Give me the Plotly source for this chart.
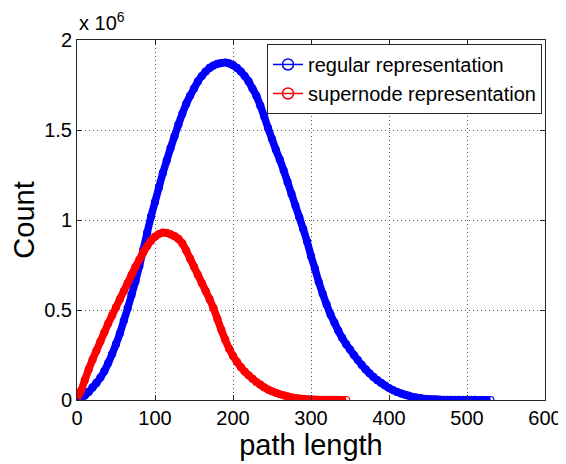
import plotly.graph_objects as go

# path length (x) and counts in millions (y)
x_regular = list(range(0, 535, 5))
y_regular = [
    0.0, 0.01, 0.025, 0.045, 0.07, 0.095, 0.125, 0.16, 0.205, 0.255,   # 0-45
    0.31, 0.37, 0.44, 0.51, 0.585, 0.66, 0.745, 0.835, 0.93, 1.02,     # 50-95
    1.10, 1.18, 1.26, 1.33, 1.40, 1.465, 1.53, 1.59, 1.645, 1.69,      # 100-145
    1.73, 1.77, 1.80, 1.825, 1.845, 1.858, 1.867, 1.872, 1.875, 1.87,  # 150-195
    1.86, 1.845, 1.825, 1.80, 1.77, 1.73, 1.69, 1.635, 1.575, 1.51,    # 200-245
    1.45, 1.39, 1.335, 1.275, 1.21, 1.145, 1.08, 1.015, 0.95, 0.88,    # 250-295
    0.80, 0.73, 0.655, 0.59, 0.53, 0.475, 0.43, 0.385, 0.345, 0.31,    # 300-345
    0.28, 0.25, 0.222, 0.195, 0.17, 0.148, 0.128, 0.11, 0.095, 0.08,   # 350-395
    0.066, 0.055, 0.045, 0.037, 0.03, 0.024, 0.018, 0.014, 0.01, 0.007, # 400-445
    0.005, 0.004, 0.003, 0.002, 0.0015, 0.001, 0.0008, 0.0006, 0.0005, 0.0004, # 450-495
    0.0003, 0.0002, 0.0002, 0.0001, 0.0001, 0.0001, 0.0,               # 500-530
]

x_super = list(range(0, 350, 5))
y_super = [
    0.01, 0.05, 0.11, 0.17, 0.225, 0.275, 0.325, 0.375, 0.425, 0.47,   # 0-45
    0.515, 0.56, 0.605, 0.65, 0.695, 0.74, 0.78, 0.82, 0.855, 0.885,   # 50-95
    0.907, 0.922, 0.93, 0.928, 0.92, 0.91, 0.895, 0.87, 0.83, 0.785,   # 100-145
    0.74, 0.695, 0.65, 0.605, 0.56, 0.51, 0.45, 0.39, 0.335, 0.285,    # 150-195
    0.245, 0.212, 0.183, 0.158, 0.137, 0.118, 0.10, 0.085, 0.07, 0.058, # 200-245
    0.048, 0.04, 0.032, 0.026, 0.02, 0.015, 0.011, 0.008, 0.006, 0.004, # 250-295
    0.003, 0.002, 0.0015, 0.001, 0.0008, 0.0005, 0.0003, 0.0002, 0.0001, 0.0, # 300-345
]

series_names = ["regular representation", "supernode representation"]
x_ticks = [0, 100, 200, 300, 400, 500, 600]
y_ticks = [0, 0.5, 1, 1.5, 2]
y_tick_text = ["0", "0.5", "1", "1.5", "2"]

BLUE = "#0000ff"
RED = "#ff0000"
FONT = "Arial, Liberation Sans, Helvetica, sans-serif"

fig = go.Figure()
for xs, ys, col in [(x_regular, y_regular, BLUE), (x_super, y_super, RED)]:
    fig.add_trace(go.Scatter(
        x=xs, y=ys, mode="lines+markers", showlegend=False,
        line=dict(color=col, width=7.5, shape="spline"),
        marker=dict(symbol="circle-open", size=7, color=col, line=dict(width=1.2, color=col)),
        hoverinfo="skip",
    ))
# legend entries (thin line with open circle)
for name, col in zip(series_names, [BLUE, RED]):
    fig.add_trace(go.Scatter(
        x=[None], y=[None], mode="lines+markers", name=name,
        line=dict(color=col, width=1.5),
        marker=dict(symbol="circle-open", size=11, color=col, line=dict(width=1.5, color=col)),
    ))

axis_common = dict(
    showline=True, linecolor="#262626", linewidth=1, mirror="ticks",
    ticks="inside", ticklen=5, tickcolor="#262626", tickwidth=1,
    showgrid=True, gridcolor="#555555", griddash="1px,3px", gridwidth=1,
    zeroline=False, automargin=False,
    tickfont=dict(family=FONT, size=20, color="black"),
)

# the page body has an 8px margin, so the figure is 8px smaller than the window
fig.update_layout(
    width=558, height=456,
    margin=dict(l=69, r=21, t=32, b=64),
    paper_bgcolor="white", plot_bgcolor="white",
    font=dict(family=FONT, color="black"),
    xaxis=dict(range=[0, 600], tickvals=x_ticks, **axis_common,
               title=dict(text="path length", font=dict(family=FONT, size=29), standoff=0)),
    yaxis=dict(range=[0, 2], tickvals=y_ticks, ticktext=y_tick_text, **axis_common,
               title=dict(text="Count", font=dict(family=FONT, size=29), standoff=6)),
    legend=dict(x=0.9936, y=0.989, xanchor="right", yanchor="top",
                bgcolor="white", bordercolor="#262626", borderwidth=1,
                font=dict(family=FONT, size=20, color="black"),
                tracegroupgap=0, itemwidth=30),
    annotations=[dict(text="x 10<sup>6</sup>", xref="paper", yref="paper",
                      x=0.0, y=1.01, xanchor="left", yanchor="bottom", showarrow=False,
                      font=dict(family=FONT, size=20, color="black"))],
)

fig.write_html("out.html")
